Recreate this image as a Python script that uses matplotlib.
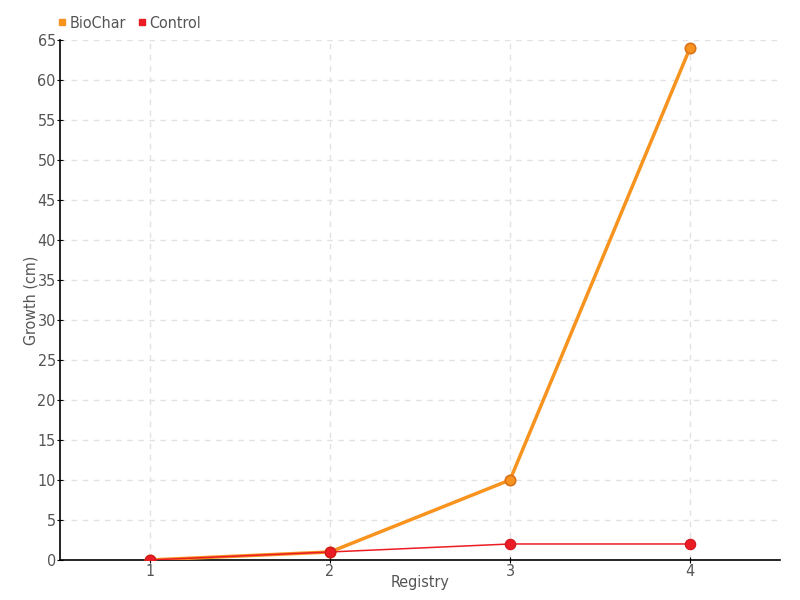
import matplotlib
matplotlib.use("Agg")
import matplotlib.pyplot as plt
from matplotlib.lines import Line2D

# --- data ---------------------------------------------------------------
registry = [1, 2, 3, 4]
biochar = [0, 1, 10, 64]
control = [0, 1, 2, 2]

ORANGE = "#f7931e"
ORANGE_EDGE = "#d9731a"
RED = "#ec1c24"
TEXT = "#555555"
GRID = "#e2e2e2"

plt.rcParams.update({
    "font.family": ["DejaVu Sans"],
    "font.stretch": "condensed",
    "font.size": 11,
    "text.color": TEXT,
})

fig = plt.figure(figsize=(8, 6), dpi=100)
ax = fig.add_axes([0.075, 0.0667, 0.9, 0.8667])

ax.plot(registry, biochar, color=ORANGE, lw=2.5, marker="o", ms=7.5,
        mfc=ORANGE, mec=ORANGE_EDGE, mew=1.2, zorder=3)
ax.plot(registry, control, color=RED, lw=1.1, marker="o", ms=7.5,
        mfc=RED, mec="#cc1520", mew=0.8, zorder=4)

ax.set_xlim(0.5, 4.5)
ax.set_ylim(0, 65)
ax.set_xticks(registry)
ax.set_yticks(range(0, 66, 5))
ax.grid(True, color=GRID, ls=(0, (4, 4)), lw=1)
ax.set_axisbelow(True)
for s in ("top", "right"):
    ax.spines[s].set_visible(False)
for s in ("left", "bottom"):
    ax.spines[s].set_color("black")
    ax.spines[s].set_linewidth(1.2)
ax.tick_params(colors="black", labelcolor=TEXT, labelsize=11.5, length=4,
               direction="inout", pad=1)
ax.set_xlabel("Registry", color=TEXT, fontsize=11.5, labelpad=-3)
ax.set_ylabel("Growth (cm)", color=TEXT, fontsize=11.5, labelpad=-1)

handles = [Line2D([], [], ls="", marker="s", ms=4.5, color=ORANGE, label="BioChar"),
           Line2D([], [], ls="", marker="s", ms=4.5, color=RED, label="Control")]
fig.legend(handles=handles, loc="upper left", bbox_to_anchor=(0.052, 0.998),
           ncol=2, frameon=False, fontsize=11.5, handletextpad=0.05,
           columnspacing=0.6, handlelength=0.8)

fig.savefig("out.png", dpi=100)
